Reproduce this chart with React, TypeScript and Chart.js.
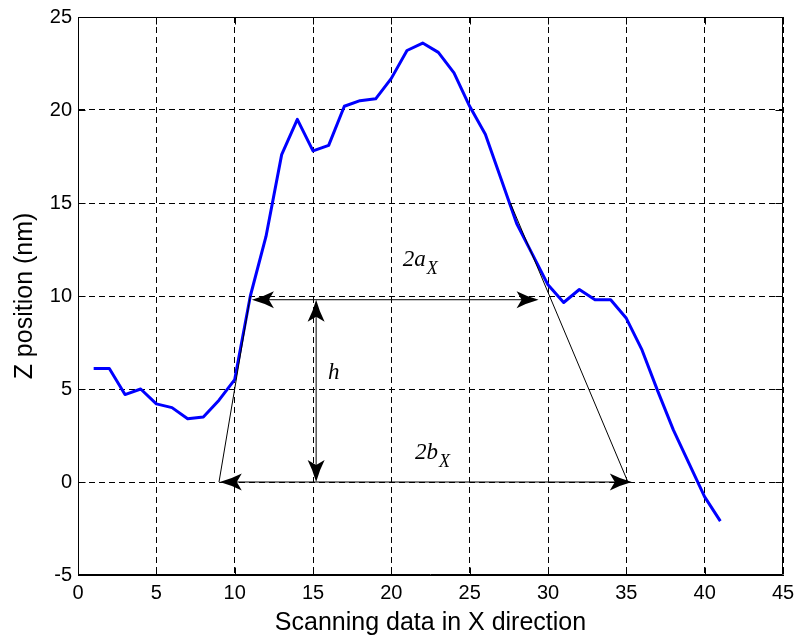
import React, { useEffect, useRef } from 'react';
import { Chart, registerables } from 'chart.js';

Chart.register(...registerables);

// ---- data ----
const xValues = [1, 2, 3, 4, 5, 6, 7, 8, 9, 10, 11, 12, 13, 14, 15, 16, 17, 18, 19, 20, 21, 22, 23, 24, 25, 26, 27, 28, 29, 30, 31, 32, 33, 34, 35, 36, 37, 38, 39, 40, 41];
const zValues = [6.1, 6.1, 4.7, 5.0, 4.2, 4.0, 3.4, 3.5, 4.4, 5.5, 10.0, 13.2, 17.6, 19.5, 17.8, 18.1, 20.2, 20.5, 20.6, 21.7, 23.2, 23.6, 23.1, 22.0, 20.2, 18.7, 16.3, 13.9, 12.25, 10.6, 9.65, 10.35, 9.8, 9.8, 8.8, 7.1, 4.9, 2.8, 1.0, -0.8, -2.1];

const xTickValues = [0, 5, 10, 15, 20, 25, 30, 35, 40, 45];
const yTickValues = [-5, 0, 5, 10, 15, 20, 25];

const xTitle = 'Scanning data in X direction';
const yTitle = 'Z position (nm)';

// double-headed arrows (data coordinates)
const arrowX1 = [11.1, 15.2, 9.05];
const arrowY1 = [9.8, 9.8, 0];
const arrowX2 = [29.4, 15.2, 35.35];
const arrowY2 = [9.8, 0, 0];

// thin slope lines (data coordinates)
const slopeX1 = [9.0, 27.6];
const slopeY1 = [0, 15.0];
const slopeX2 = [11.0, 35.1];
const slopeY2 = [10.0, 0];

// annotation labels: main text, subscript, anchor (left, baseline) in data coordinates
const labelMain = ['2a', 'h', '2b'];
const labelSub = ['X', '', 'X'];
const labelX = [20.73, 15.96, 21.51];
const labelY = [11.6, 5.52, 1.22];

function drawArrowHead(ctx: CanvasRenderingContext2D, tx: number, ty: number, dx: number, dy: number) {
  const len = 22;
  const half = 8.5;
  const notch = 17;
  const nx = -dy;
  const ny = dx;
  const w1x = tx - dx * len + nx * half;
  const w1y = ty - dy * len + ny * half;
  const w2x = tx - dx * len - nx * half;
  const w2y = ty - dy * len - ny * half;
  const nbx = tx - dx * notch;
  const nby = ty - dy * notch;
  ctx.beginPath();
  ctx.moveTo(tx, ty);
  ctx.quadraticCurveTo(tx - dx * len * 0.55 + nx * half * 0.4, ty - dy * len * 0.55 + ny * half * 0.4, w1x, w1y);
  ctx.lineTo(nbx, nby);
  ctx.lineTo(w2x, w2y);
  ctx.quadraticCurveTo(tx - dx * len * 0.55 - nx * half * 0.4, ty - dy * len * 0.55 - ny * half * 0.4, tx, ty);
  ctx.closePath();
  ctx.fill();
}

const annotationPlugin = {
  id: 'annotations',
  afterDatasetsDraw(chart: any) {
    const ctx: CanvasRenderingContext2D = chart.ctx;
    const xs = chart.scales.x;
    const ys = chart.scales.y;
    ctx.save();
    ctx.strokeStyle = '#000';
    ctx.fillStyle = '#000';
    ctx.lineWidth = 1;
    for (let i = 0; i < slopeX1.length; i++) {
      ctx.beginPath();
      ctx.moveTo(xs.getPixelForValue(slopeX1[i]), ys.getPixelForValue(slopeY1[i]));
      ctx.lineTo(xs.getPixelForValue(slopeX2[i]), ys.getPixelForValue(slopeY2[i]));
      ctx.stroke();
    }
    for (let i = 0; i < arrowX1.length; i++) {
      const p1x = xs.getPixelForValue(arrowX1[i]);
      const p1y = ys.getPixelForValue(arrowY1[i]);
      const p2x = xs.getPixelForValue(arrowX2[i]);
      const p2y = ys.getPixelForValue(arrowY2[i]);
      const L = Math.hypot(p2x - p1x, p2y - p1y);
      const dx = (p2x - p1x) / L;
      const dy = (p2y - p1y) / L;
      ctx.beginPath();
      ctx.moveTo(p1x + dx * 14, p1y + dy * 14);
      ctx.lineTo(p2x - dx * 14, p2y - dy * 14);
      ctx.stroke();
      drawArrowHead(ctx, p2x, p2y, dx, dy);
      drawArrowHead(ctx, p1x, p1y, -dx, -dy);
    }
    ctx.textAlign = 'left';
    ctx.textBaseline = 'alphabetic';
    for (let i = 0; i < labelMain.length; i++) {
      const px = xs.getPixelForValue(labelX[i]);
      const py = ys.getPixelForValue(labelY[i]);
      ctx.font = 'italic 23px "Liberation Serif", "Times New Roman", serif';
      ctx.fillText(labelMain[i], px, py);
      const w = ctx.measureText(labelMain[i]).width;
      if (labelSub[i]) {
        ctx.font = 'italic 18px "Liberation Serif", "Times New Roman", serif';
        ctx.fillText(labelSub[i], px + w + 1, py + 8);
      }
    }
    ctx.restore();
  },
  afterDraw(chart: any) {
    const ctx: CanvasRenderingContext2D = chart.ctx;
    const a = chart.chartArea;
    const xs = chart.scales.x;
    const ys = chart.scales.y;
    ctx.save();
    ctx.strokeStyle = '#000';
    ctx.lineWidth = 1;
    const l = Math.round(a.left) + 0.5;
    const r = Math.round(a.right) - 0.5;
    const t = Math.round(a.top) + 0.5;
    const b = Math.round(a.bottom) - 0.5;
    ctx.beginPath();
    ctx.rect(l, t, r - l, b - t);
    ctx.stroke();
    const tl = 7;
    ctx.beginPath();
    for (const v of xTickValues) {
      const px = Math.round(xs.getPixelForValue(v)) + 0.5;
      ctx.moveTo(px, b);
      ctx.lineTo(px, b - tl);
      ctx.moveTo(px, t);
      ctx.lineTo(px, t + tl);
    }
    for (const v of yTickValues) {
      const py = Math.round(ys.getPixelForValue(v)) + 0.5;
      ctx.moveTo(l, py);
      ctx.lineTo(l + tl, py);
      ctx.moveTo(r, py);
      ctx.lineTo(r - tl, py);
    }
    ctx.stroke();
    ctx.restore();
  },
};

export default function App() {
  const canvasRef = useRef<HTMLCanvasElement | null>(null);

  useEffect(() => {
    document.body.style.margin = '0';
    const canvas = canvasRef.current;
    if (!canvas) return;
    const tickFont = { family: '"Liberation Sans", Arial, sans-serif', size: 20 };
    const titleFont = { family: '"Liberation Sans", Arial, sans-serif', size: 25 };
    const zeroPad = (scale: any) => {
      scale.paddingLeft = 0;
      scale.paddingRight = 0;
      scale.paddingTop = 0;
      scale.paddingBottom = 0;
    };
    const chart = new Chart(canvas, {
      type: 'line',
      data: {
        datasets: [
          {
            data: xValues.map((x, i) => ({ x, y: zValues[i] })),
            borderColor: '#0000ff',
            borderWidth: 3,
            pointRadius: 0,
            fill: false,
            tension: 0,
            borderJoinStyle: 'round',
          },
        ],
      },
      options: {
        animation: false,
        responsive: false,
        maintainAspectRatio: false,
        layout: { padding: { top: 17, right: 12, left: 0, bottom: 0 } },
        plugins: {
          legend: { display: false },
          tooltip: { enabled: false },
        },
        scales: {
          x: {
            type: 'linear',
            min: 0,
            max: 45,
            afterBuildTicks: (scale: any) => {
              scale.ticks = xTickValues.map((v) => ({ value: v }));
            },
            afterFit: (scale: any) => {
              scale.height = 64;
              zeroPad(scale);
            },
            ticks: { font: tickFont, color: '#000', padding: 6, maxRotation: 0, autoSkip: false },
            grid: { color: '#000', lineWidth: 1, drawTicks: false },
            border: { display: true, color: '#000', width: 1, dash: [6, 4] },
            title: { display: true, text: xTitle, font: titleFont, color: '#000', padding: { top: 0, bottom: 1 } },
          },
          y: {
            type: 'linear',
            min: -5,
            max: 25,
            afterBuildTicks: (scale: any) => {
              scale.ticks = yTickValues.map((v) => ({ value: v }));
            },
            afterFit: (scale: any) => {
              scale.width = 78;
              zeroPad(scale);
            },
            ticks: { font: tickFont, color: '#000', padding: 6, autoSkip: false },
            grid: { color: '#000', lineWidth: 1, drawTicks: false },
            border: { display: true, color: '#000', width: 1, dash: [6, 4] },
            title: { display: true, text: yTitle, font: titleFont, color: '#000', padding: { top: 10, bottom: 0 } },
          },
        },
      },
      plugins: [annotationPlugin],
    } as any);
    return () => chart.destroy();
  }, []);

  return (
    <div style={{ width: 795, height: 639, background: '#fff' }}>
      <canvas ref={canvasRef} width={795} height={639} style={{ display: 'block' }} />
    </div>
  );
}
